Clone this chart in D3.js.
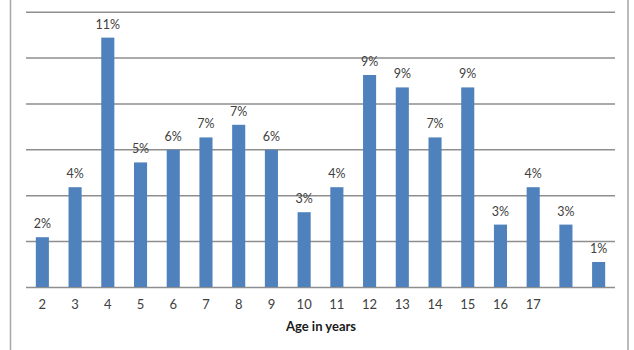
<!DOCTYPE html>
<meta charset="utf-8">
<html>
<head>
  <title>Age in years</title>
  <style>
    body { margin: 0; background: #fff; }
    svg { display: block; font-family: Lato, "Open Sans", sans-serif; }
    .grid line { stroke: #8e8e8e; stroke-width: 1.5; }
    .xaxis text { fill: #404040; font-size: 13px; }
    .lbl { fill: #404040; font-size: 12.5px; }
  </style>
</head>
<body>
<svg id="chart" width="634" height="350"></svg>

<script src="https://d3js.org/d3.v7.min.js"></script>
<script>

// age groups (last two bars have no label in the original)
const ages = ["2", "3", "4", "5", "6", "7", "8", "9", "10", "11", "12", "13", "14", "15", "16", "17", "", ""];
// share of cases per age, %
const shares = [2.17, 4.35, 10.87, 5.43, 5.98, 6.52, 7.07, 5.98, 3.26, 4.35, 9.24, 8.70, 6.52, 8.70, 2.72, 4.35, 2.72, 1.09];
const gridValues = [0, 2, 4, 6, 8, 10, 12];

const svg = d3.select("#chart");

const plotLeft = 26, plotRight = 615, plotTop = 11.7, plotBottom = 287;

// frame lines at the left and right edges
svg.append("line").attr("x1", 10.5).attr("x2", 10.5).attr("y1", 0).attr("y2", 350)
  .attr("stroke", "#a6a6a6").attr("stroke-width", 1.5);
svg.append("line").attr("x1", 628).attr("x2", 628).attr("y1", 0).attr("y2", 350)
  .attr("stroke", "#a6a6a6").attr("stroke-width", 1.5);

const x = d3.scaleBand()
  .domain(d3.range(shares.length))
  .range([plotLeft, plotRight])
  .paddingInner(0.6)
  .paddingOuter(0.3);

const y = d3.scaleLinear()
  .domain([0, 12])
  .range([plotBottom, plotTop]);

// gridlines
svg.append("g")
  .attr("class", "grid")
  .attr("transform", `translate(${plotLeft},0)`)
  .call(d3.axisLeft(y).tickValues(gridValues).tickFormat("").tickSize(-(plotRight - plotLeft)))
  .call(g => g.select(".domain").remove());

// bars
svg.append("g")
  .selectAll("rect")
  .data(shares)
  .join("rect")
  .attr("x", (d, i) => x(i))
  .attr("y", d => y(d))
  .attr("width", x.bandwidth())
  .attr("height", d => y(0) - y(d))
  .attr("fill", "#4f81bd");

// value labels
svg.append("g")
  .selectAll("text")
  .data(shares)
  .join("text")
  .attr("class", "lbl")
  .attr("x", (d, i) => x(i) + x.bandwidth() / 2)
  .attr("y", d => y(d) - 9)
  .attr("text-anchor", "middle")
  .text(d => d3.format(".0f")(d) + "%");

// x axis labels
svg.append("g")
  .attr("class", "xaxis")
  .attr("transform", `translate(0,${plotBottom})`)
  .call(d3.axisBottom(x).tickSize(0).tickPadding(13).tickFormat(i => ages[i]))
  .call(g => g.select(".domain").remove())
  .call(g => g.attr("font-family", null).attr("font-size", null));

svg.append("text")
  .attr("x", 321)
  .attr("y", 331)
  .attr("text-anchor", "middle")
  .attr("font-size", "13px")
  .attr("font-weight", "bold")
  .attr("fill", "#1a1a1a")
  .text("Age in years");

</script>
</body>
</html>
